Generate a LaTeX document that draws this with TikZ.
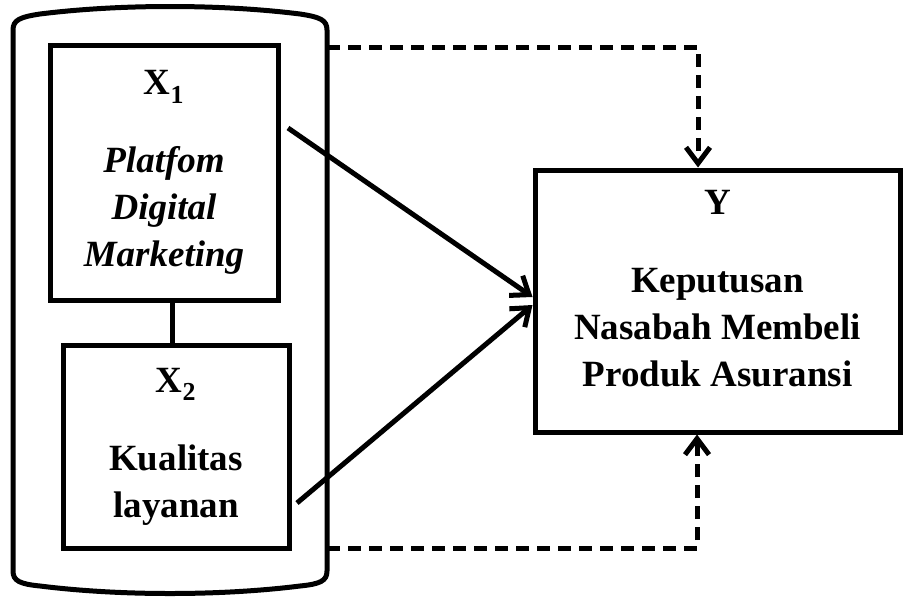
\documentclass[tikz,border=0pt]{standalone}
\usepackage{fontspec}
\setmainfont{Liberation Serif}
\usetikzlibrary{arrows.meta}

\begin{document}
\begin{tikzpicture}[x=1pt, y=-1pt, line width=5pt,
  box/.style={draw, rectangle, inner sep=0pt},
  boxtext/.style={align=center, font=\fontsize{37}{47}\selectfont\bfseries},
  link/.style={-{Straight Barb[length=16pt,width=24pt]}},
  dashlink/.style={link, dash pattern=on 13pt off 8pt}]

\useasboundingbox (0,0) rectangle (907,603);

\draw (13,30) .. controls (13,20) and (20,17) .. (40,14)
  .. controls (120,4) and (220,4) .. (300,14)
  .. controls (320,17) and (327,20) .. (327,30) -- (327,571)
  .. controls (327,581) and (320,584) .. (300,586)
  .. controls (220,596) and (120,596) .. (40,586)
  .. controls (20,584) and (13,581) .. (13,571) -- cycle;
\coordinate (grp top) at (327,47);
\coordinate (grp bot) at (327,548);

\node[box, minimum width=228pt, minimum height=255pt] (x1) at (164,172.5) {};
\node[box, minimum width=226pt, minimum height=203pt] (x2) at (176,446.5) {};
\node[box, minimum width=365pt, minimum height=262pt] (y) at (717.5,301) {};

\node[boxtext] (x1 text) at (x1.center)
  {X\textsubscript{1}\\[31pt]\textit{Platfom}\\\textit{Digital}\\\textit{Marketing}};
\node[boxtext] (x2 text) at (x2.center)
  {X\textsubscript{2}\\[31pt]Kualitas\\layanan};
\node[boxtext] (y text) at ([yshift=12pt]y.center)
  {Y\\[31pt]Keputusan\\Nasabah Membeli\\Produk Asuransi};

\coordinate (x1 out) at ([shift={(7.5,-44.5)}]x1.east);
\coordinate (x2 out) at ([shift={(5.5,56.5)}]x2.east);

\draw ([xshift=8pt]x1.south) -- ([xshift=-4pt]x2.north);
\draw[link] (x1 out) -- ([yshift=4pt]y.west);
\draw[link] (x2 out) -- ([yshift=-4pt]y.west);

\draw[dashlink] (grp top) -| ([xshift=-19.5pt]y.north);
\draw[dashlink] (grp bot) -| ([xshift=-20.5pt]y.south);

\end{tikzpicture}
\end{document}
